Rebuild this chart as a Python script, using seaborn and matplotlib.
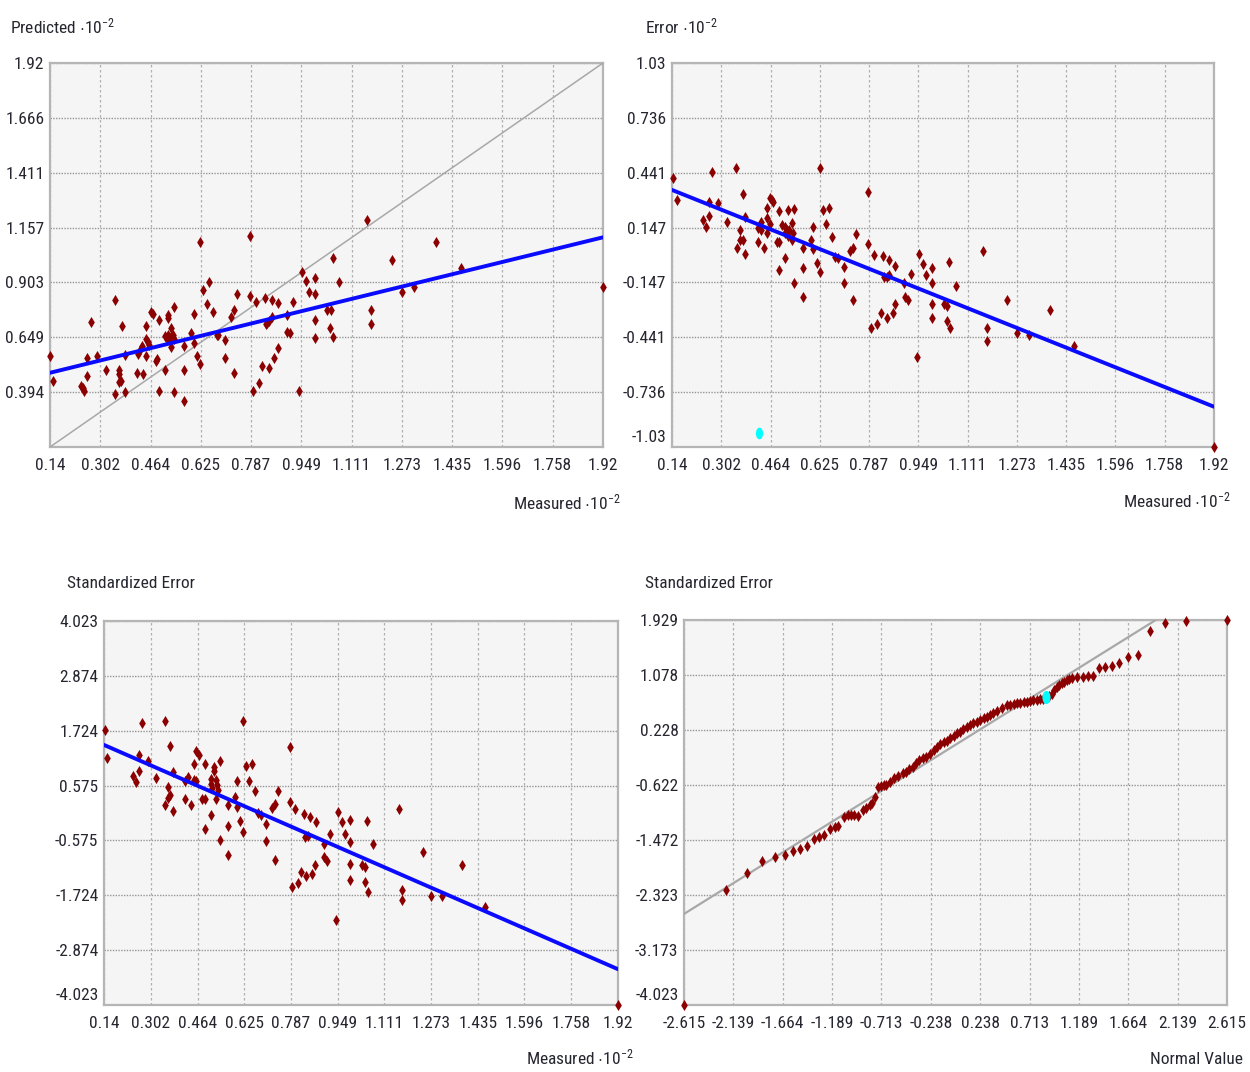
import numpy as np
import pandas as pd
import matplotlib
matplotlib.use("Agg")
import matplotlib.pyplot as plt
import seaborn as sns
from matplotlib.path import Path
from matplotlib.transforms import Affine2D, ScaledTranslation
from matplotlib import font_manager

# ---------------- data ----------------
# Panel 1: Predicted vs Measured (x10^-2)
p1_measured = [0.14, 0.151, 0.271, 0.241, 0.247, 0.250, 0.26, 0.26, 0.29, 0.32, 0.35, 0.35,
               0.361, 0.361, 0.363, 0.368, 0.372, 0.38, 0.38, 0.42, 0.423, 0.43, 0.436, 0.44,
               0.45, 0.45, 0.455, 0.46, 0.449, 0.464, 0.47, 0.49, 0.48, 0.485, 0.49, 0.51,
               0.52, 0.52, 0.51, 0.515, 0.52, 0.525, 0.53, 0.535, 0.54, 0.53, 0.53, 0.54,
               0.54, 0.57, 0.57, 0.57, 0.594, 0.603, 0.603, 0.613, 0.623, 0.623, 0.633, 0.644,
               0.653, 0.664, 0.676, 0.682, 0.703, 0.703, 0.724, 0.733, 0.733, 0.743, 0.783, 0.783,
               0.793, 0.803, 0.813, 0.823, 0.833, 0.835, 0.84, 0.845, 0.844, 0.853, 0.853, 0.862,
               0.873, 0.873, 0.904, 0.904, 0.913, 0.923, 0.942, 0.952, 0.963, 0.973, 0.992, 0.992,
               0.992, 0.992, 1.052, 1.071, 1.033, 1.043, 1.041, 1.052, 1.161, 1.172, 1.172, 1.242,
               1.272, 1.312, 1.381, 1.462, 1.92]
p1_predicted = [0.562, 0.447, 0.718, 0.423, 0.414, 0.400, 0.551, 0.469, 0.562, 0.497, 0.821, 0.386,
                0.497, 0.478, 0.441, 0.447, 0.701, 0.567, 0.394, 0.484, 0.57, 0.59, 0.608, 0.478,
                0.701, 0.64, 0.625, 0.612, 0.562, 0.767, 0.757, 0.729, 0.54, 0.55, 0.401, 0.497,
                0.752, 0.74, 0.655, 0.64, 0.66, 0.645, 0.65, 0.66, 0.64, 0.69, 0.605, 0.79,
                0.394, 0.608, 0.497, 0.355, 0.67, 0.757, 0.623, 0.562, 0.523, 1.089, 0.868, 0.803,
                0.904, 0.767, 0.661, 0.658, 0.636, 0.551, 0.741, 0.775, 0.484, 0.849, 1.118, 0.84,
                0.401, 0.814, 0.438, 0.515, 0.829, 0.71, 0.715, 0.725, 0.505, 0.821, 0.741, 0.551,
                0.809, 0.598, 0.752, 0.674, 0.667, 0.814, 0.401, 0.951, 0.911, 0.857, 0.922, 0.849,
                0.729, 0.644, 1.015, 0.903, 0.775, 0.775, 0.69, 0.651, 1.192, 0.775, 0.709, 1.007,
                0.857, 0.883, 1.089, 0.971, 0.883]
p1_fit_x = [0.14, 1.92]
p1_fit_y = [0.484, 1.112]
p1_ref_x = [0.14, 1.92]
p1_ref_y = [0.14, 1.92]

# Panel 2: Error vs Measured (x10^-2)
p2_measured = [0.144, 0.155, 0.243, 0.252, 0.263, 0.263, 0.272, 0.291, 0.321, 0.35, 0.372, 0.362,
               0.362, 0.372, 0.352, 0.381, 0.381, 0.423, 0.431, 0.423, 0.432, 0.442, 0.453, 0.453,
               0.453, 0.462, 0.467, 0.472, 0.462, 0.484, 0.493, 0.493, 0.493, 0.512, 0.512, 0.517,
               0.522, 0.525, 0.533, 0.533, 0.54, 0.536, 0.571, 0.571, 0.542, 0.571, 0.604, 0.595,
               0.604, 0.615, 0.626, 0.626, 0.635, 0.646, 0.656, 0.665, 0.675, 0.686, 0.705, 0.725,
               0.733, 0.744, 0.705, 0.735, 0.783, 0.783, 0.803, 0.834, 0.854, 0.873, 0.795, 0.814,
               0.825, 0.835, 0.845, 0.854, 0.845, 0.865, 0.873, 0.903, 0.905, 0.914, 0.924, 0.944,
               0.952, 0.963, 0.974, 0.993, 0.993, 0.993, 0.993, 1.033, 1.042, 1.042, 1.053, 1.05,
               1.073, 1.162, 1.173, 1.173, 1.241, 1.272, 1.312, 1.381, 1.46, 1.92, 0.50, 0.51, 0.52]
p2_error = [0.411, 0.295, 0.188, 0.152, 0.209, 0.286, 0.444, 0.277, 0.179, 0.465, 0.327, 0.134,
            0.08, 0.08, 0.036, 0.005, 0.205, 0.143, 0.178, 0.071, 0.134, 0.036, 0.25, 0.196,
            0.116, 0.304, 0.295, 0.286, 0.166, 0.071, 0.071, 0.237, -0.08, -0.018, 0.152, 0.134,
            0.242, 0.134, 0.173, 0.08, 0.245, 0.116, 0.036, -0.071, -0.149, -0.224, 0.152, 0.08,
            0.031, -0.045, 0.465, -0.089, 0.241, 0.166, 0.25, 0.098, -0.009, -0.018, -0.063, 0.023,
            0.036, 0.113, -0.149, -0.241, 0.336, 0.059, -0.002, -0.005, -0.027, -0.059, -0.393, -0.372,
            -0.31, -0.116, -0.116, -0.107, -0.34, -0.31, -0.263, -0.152, -0.227, -0.241, -0.102, -0.546,
            0.005, -0.048, -0.107, -0.071, -0.149, -0.263, -0.34, -0.263, -0.274, -0.352, -0.393, -0.036,
            -0.166, 0.023, -0.393, -0.46, -0.241, -0.417, -0.429, -0.295, -0.488, -1.03, 0.16, 0.12, 0.10]
p2_fit_x = [0.14, 1.92]
p2_fit_y = [0.349, -0.814]
p2_sel_x = [0.426]
p2_sel_y = [-0.955]

# Panel 3: Standardized Error vs Measured (x10^-2)
p3_measured = [0.142, 0.150, 0.272, 0.350, 0.370, 0.26, 0.26, 0.242, 0.251, 0.291, 0.32, 0.35,
               0.361, 0.361, 0.37, 0.378, 0.38, 0.42, 0.42, 0.43, 0.44, 0.45, 0.45, 0.459,
               0.459, 0.468, 0.48, 0.49, 0.49, 0.49, 0.509, 0.509, 0.513, 0.52, 0.52, 0.528,
               0.531, 0.535, 0.54, 0.528, 0.54, 0.51, 0.57, 0.57, 0.593, 0.602, 0.602, 0.612,
               0.623, 0.623, 0.632, 0.642, 0.651, 0.663, 0.673, 0.682, 0.702, 0.702, 0.723, 0.732,
               0.744, 0.783, 0.783, 0.802, 0.831, 0.852, 0.873, 0.835, 0.846, 0.569, 0.732, 0.791,
               0.813, 0.822, 0.841, 0.862, 0.871, 0.902, 0.903, 0.912, 0.922, 0.943, 0.963, 0.973,
               0.991, 0.991, 0.991, 0.991, 1.035, 1.043, 1.043, 1.053, 1.05, 1.073, 1.172, 1.172,
               1.243, 1.272, 1.31, 1.381, 1.46, 1.92, 0.952, 1.162]
p3_std_error = [1.739, 1.154, 1.878, 1.92, 1.412, 1.224, 0.875, 0.785, 0.66, 1.084, 0.736, 0.158,
                0.555, 0.318, 0.367, 0.854, 0.04, 0.666, 0.297, 0.75, 0.158, 1.029, 0.701, 0.68,
                1.307, 1.224, 0.297, 0.297, 1.029, -0.33, 0.715, 0.61, 0.527, 0.959, 0.889, 0.694,
                0.59, 0.485, 1.084, 0.297, -0.559, -0.05, -0.28, 0.158, 0.332, 0.666, 0.123, -0.17,
                1.934, -0.399, 0.994, 0.68, 1.029, 0.457, 0.0, -0.05, -0.225, -0.587, 0.102, 0.193,
                0.457, 1.377, 0.228, 0.088, -0.016, -0.086, -0.19, -0.503, -0.489, -0.89, -0.981, -1.556,
                -1.472, -1.241, -1.311, -1.276, -1.1, -0.659, -0.925, -1.01, -0.435, -2.243, -0.19, -0.435,
                -0.154, -0.61, -1.066, -1.402, -1.1, -1.136, -1.451, -1.661, -0.168, -0.659, -1.612, -1.822,
                -0.82, -1.731, -1.731, -1.1, -1.977, -4.023, 0.02, 0.09]
p3_fit_x = [0.14, 1.92]
p3_fit_y = [1.426, -3.273]

# Panel 4: Normal QQ plot
qq_normal = [-2.615, -2.213, -2.004, -1.859, -1.74, -1.644, -1.565, -1.50, -1.43, -1.366, -1.312,
             -1.263, -1.208, -1.163, -1.129, -1.072, -1.04, -1.007, -0.975, -0.937, -0.892, -0.859,
             -0.827, -0.801, -0.776, -0.75, -0.718, -0.69, -0.67, -0.628, -0.589, -0.551, -0.509,
             -0.477, -0.445, -0.412, -0.38, -0.355, -0.316, -0.284, -0.242, -0.21, -0.178, -0.145,
             -0.113, -0.081, -0.049, -0.017, 0.015, 0.045, 0.077, 0.11, 0.141, 0.173, 0.205, 0.238,
             0.27, 0.30, 0.334, 0.366, 0.398, 0.446, 0.494, 0.527, 0.559, 0.59, 0.623, 0.655, 0.687,
             0.72, 0.751, 0.785, 0.816, 0.845, 0.90, 0.928, 0.952, 0.976, 1.0, 1.024, 1.048,
             1.073, 1.097, 1.121, 1.169, 1.227, 1.272, 1.323, 1.384, 1.442, 1.506, 1.577, 1.657,
             1.754, 1.869, 2.014, 2.22, 2.615]
qq_std_error = [-4.023, -2.243, -1.99, -1.80, -1.735, -1.705, -1.648, -1.617, -1.558, -1.462, -1.426,
                -1.395, -1.306, -1.278, -1.248, -1.123, -1.092, -1.092, -1.092, -1.102, -1.009, -0.978,
                -0.937, -0.896, -0.803, -0.648, -0.633, -0.628, -0.622, -0.571, -0.52, -0.483, -0.442,
                -0.416, -0.38, -0.339, -0.287, -0.236, -0.21, -0.184, -0.143, -0.081, -0.03, 0.012,
                0.042, 0.063, 0.099, 0.135, 0.187, 0.205, 0.238, 0.27, 0.305, 0.33, 0.357, 0.383,
                0.408, 0.435, 0.46, 0.495, 0.527, 0.573, 0.609, 0.62, 0.63, 0.64, 0.651, 0.66, 0.666,
                0.68, 0.692, 0.697, 0.702, 0.715, 0.76, 0.784, 0.84, 0.888, 0.92, 0.95, 0.975,
                1.001, 1.015, 1.027, 1.053, 1.053, 1.068, 1.068, 1.182, 1.207, 1.218, 1.269, 1.351,
                1.387, 1.759, 1.888, 1.919, 1.929]
qq_ref_x = [-2.615, 1.929]
qq_ref_y = [-2.615, 1.929]
qq_sel_x = [0.873]
qq_sel_y = [0.733]

# ticks
meas_ticks = [0.14, 0.302, 0.464, 0.625, 0.787, 0.949, 1.111, 1.273, 1.435, 1.596, 1.758, 1.92]
meas_labels = ["0.14", "0.302", "0.464", "0.625", "0.787", "0.949", "1.111", "1.273", "1.435",
               "1.596", "1.758", "1.92"]
pred_ticks = [0.394, 0.649, 0.903, 1.157, 1.411, 1.666, 1.92]
pred_labels = ["0.394", "0.649", "0.903", "1.157", "1.411", "1.666", "1.92"]
err_ticks = [-1.03, -0.736, -0.441, -0.147, 0.147, 0.441, 0.736, 1.03]
err_labels = ["-1.03", "-0.736", "-0.441", "-0.147", "0.147", "0.441", "0.736", "1.03"]
std_ticks = [-4.023, -2.874, -1.724, -0.575, 0.575, 1.724, 2.874, 4.023]
std_labels = ["-4.023", "-2.874", "-1.724", "-0.575", "0.575", "1.724", "2.874", "4.023"]
qqy_ticks = [-4.023, -3.173, -2.323, -1.472, -0.622, 0.228, 1.078, 1.929]
qqy_labels = ["-4.023", "-3.173", "-2.323", "-1.472", "-0.622", "0.228", "1.078", "1.929"]
qqx_ticks = [-2.615, -2.139, -1.664, -1.189, -0.713, -0.238, 0.238, 0.713, 1.189, 1.664, 2.139, 2.615]
qqx_labels = ["-2.615", "-2.139", "-1.664", "-1.189", "-0.713", "-0.238", "0.238", "0.713", "1.189",
              "1.664", "2.139", "2.615"]

# ---------------- style ----------------
sns.set_style("white")
avail = {f.name for f in font_manager.fontManager.ttflist}
fam = []
for cand in ["Liberation Sans Narrow", "Roboto Condensed", "Open Sans Condensed"]:
    if cand in avail:
        fam.append(cand)
        break
fam += ["Liberation Sans", "DejaVu Sans"]
plt.rcParams["font.family"] = fam
plt.rcParams["mathtext.fontset"] = "custom"
plt.rcParams["mathtext.rm"] = fam[0]
plt.rcParams["mathtext.default"] = "rm"

W, H = 1250, 1072
fig = plt.figure(figsize=(W / 100, H / 100), dpi=100)
fig.patch.set_facecolor("white")

TXT = "#262630"
RED = "#8b0000"
BLUE = "#0a0aff"
GRAY = "#a8a8a8"
FS = 12.5

ell = Path.unit_circle().transformed(Affine2D().scale(0.62, 1.0))


def rect(l, t, r, b):
    return [l / W, 1 - b / H, (r - l) / W, (b - t) / H]


def style_axes(ax, xlim, ylim, xt, xl, yt, yl, raise_bottom=True):
    ax.set_facecolor("#f5f5f5")
    ax.set_xlim(*xlim)
    ax.set_ylim(*ylim)
    ax.set_xticks(xt)
    ax.set_xticklabels(xl)
    ax.set_yticks(yt)
    ax.set_yticklabels(yl)
    ax.set_xlabel("")
    ax.set_ylabel("")
    ax.tick_params(length=0, labelsize=FS, labelcolor=TXT)
    ax.tick_params(axis="x", pad=8)
    ax.tick_params(axis="y", pad=4)
    ax.yaxis.grid(True, color="#959595", ls=(0, (1, 1)), lw=1.0)
    ax.xaxis.grid(True, color="#b0b0b0", ls=(0, (2, 2)), lw=0.9)
    ax.set_axisbelow(True)
    for s in ax.spines.values():
        s.set_visible(True)
        s.set_color("#b5b5b5")
        s.set_linewidth(1.6)
    if raise_bottom:
        lab = ax.get_yticklabels()[0]
        lab.set_transform(lab.get_transform() + ScaledTranslation(0, 8 / 72, fig.dpi_scale_trans))


def points(ax, x, y):
    df = pd.DataFrame({"x": x, "y": y})
    sns.scatterplot(data=df, x="x", y="y", ax=ax, color=RED, marker="d", s=32,
                    linewidth=0, clip_on=False, zorder=4)


def line(ax, x, y, color, lw, z):
    sns.lineplot(x=x, y=y, ax=ax, color=color, lw=lw, sort=False, zorder=z)


# Panel 1
ax1 = fig.add_axes(rect(50, 63, 603, 447))
line(ax1, p1_ref_x, p1_ref_y, GRAY, 1.1, 3)
points(ax1, p1_measured, p1_predicted)
line(ax1, p1_fit_x, p1_fit_y, BLUE, 2.8, 5)
style_axes(ax1, (0.14, 1.92), (0.14, 1.92), meas_ticks, meas_labels, pred_ticks, pred_labels,
           raise_bottom=False)

# Panel 2
ax2 = fig.add_axes(rect(672, 63, 1214, 447))
points(ax2, p2_measured, p2_error)
line(ax2, p2_fit_x, p2_fit_y, BLUE, 2.8, 5)
sns.scatterplot(x=p2_sel_x, y=p2_sel_y, ax=ax2, color="#00ffff", marker=ell, s=70,
                linewidth=0, zorder=6)
style_axes(ax2, (0.14, 1.92), (-1.03, 1.03), meas_ticks, meas_labels, err_ticks, err_labels)

# Panel 3
ax3 = fig.add_axes(rect(104, 621, 618, 1005))
points(ax3, p3_measured, p3_std_error)
line(ax3, p3_fit_x, p3_fit_y, BLUE, 2.8, 5)
style_axes(ax3, (0.14, 1.92), (-4.023, 4.023), meas_ticks, meas_labels, std_ticks, std_labels)

# Panel 4
ax4 = fig.add_axes(rect(684, 620, 1227, 1005))
line(ax4, qq_ref_x, qq_ref_y, GRAY, 1.6, 3)
points(ax4, qq_normal, qq_std_error)
sns.scatterplot(x=qq_sel_x, y=qq_sel_y, ax=ax4, color="#00ffff", marker=ell, s=90,
                linewidth=0, zorder=6)
style_axes(ax4, (-2.615, 2.615), (-4.023, 1.929), qqx_ticks, qqx_labels, qqy_ticks, qqy_labels)

# Titles / axis captions
def ftext(x, y, s, ha="left"):
    fig.text(x / W, 1 - y / H, s, ha=ha, va="center", fontsize=FS, color=TXT)

ftext(10, 26, r"Predicted $\cdot$10$^{-2}$")
ftext(645, 26, r"Error $\cdot$10$^{-2}$")
ftext(67, 583, "Standardized Error")
ftext(645, 583, "Standardized Error")
ftext(621, 502, r"Measured $\cdot$10$^{-2}$", ha="right")
ftext(1231, 500, r"Measured $\cdot$10$^{-2}$", ha="right")
ftext(634, 1057, r"Measured $\cdot$10$^{-2}$", ha="right")
ftext(1243, 1060, "Normal Value", ha="right")

fig.savefig("out.png", dpi=100, facecolor="white")
